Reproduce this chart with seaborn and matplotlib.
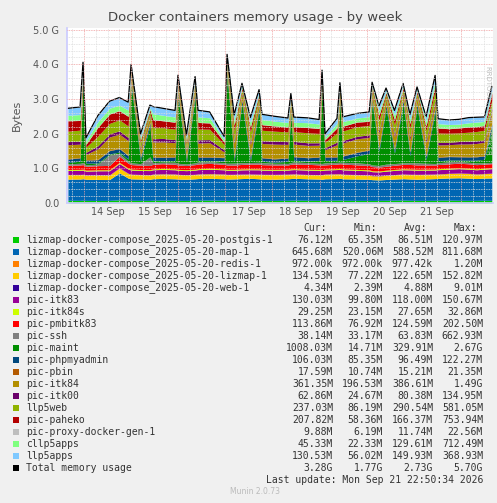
import numpy as np
import pandas as pd
import matplotlib
matplotlib.use("Agg")
import matplotlib.pyplot as plt
import seaborn as sns

sns.set_theme(style="white")
plt.rcParams['font.family'] = ['DejaVu Sans']

names = ["lizmap-docker-compose_2025-05-20-postgis-1", "lizmap-docker-compose_2025-05-20-map-1",
         "lizmap-docker-compose_2025-05-20-redis-1", "lizmap-docker-compose_2025-05-20-lizmap-1",
         "lizmap-docker-compose_2025-05-20-web-1", "pic-itk83", "pic-itk84s", "pic-pmbitk83", "pic-ssh",
         "pic-maint", "pic-phpmyadmin", "pic-pbin", "pic-itk84", "pic-itk00", "llp5web", "pic-paheko",
         "pic-proxy-docker-gen-1", "cllp5apps", "llp5apps"]
colors = ["#00CC00", "#0066B3", "#FF8000", "#FFCC00", "#330099", "#990099", "#CCFF00", "#FF0000", "#808080",
          "#008F00", "#00487D", "#B35A00", "#B38F00", "#6B006B", "#8FB300", "#B30000", "#BEBEBE", "#80FF80",
          "#80C9FF"]
cur = ["76.12M", "645.68M", "972.00k", "134.53M", "4.34M", "130.03M", "29.25M", "113.86M", "38.14M", "1008.03M",
       "106.03M", "17.59M", "361.35M", "62.86M", "237.03M", "207.82M", "9.88M", "45.33M", "130.53M", "3.28G"]
mins = ["65.35M", "520.06M", "972.00k", "77.22M", "2.39M", "99.80M", "23.15M", "76.92M", "33.17M", "14.71M",
        "85.35M", "10.74M", "196.53M", "24.67M", "86.19M", "58.36M", "6.19M", "22.33M", "56.02M", "1.77G"]
avgs = ["86.51M", "588.52M", "977.42k", "122.65M", "4.88M", "118.00M", "27.65M", "124.59M", "63.83M", "329.91M",
        "96.49M", "15.21M", "386.61M", "80.38M", "290.54M", "166.37M", "11.74M", "129.61M", "149.93M", "2.73G"]
maxs = ["120.97M", "811.68M", "1.20M", "152.82M", "9.01M", "150.67M", "32.86M", "202.50M", "662.93M", "2.67G",
        "122.27M", "21.35M", "1.49G", "134.95M", "581.05M", "753.94M", "22.56M", "712.49M", "368.93M", "5.70G"]

# sample times, hours since 13 Sep 00:00
hours = [15.8, 22.0, 23.5, 25.0, 31.0, 37.0, 42.0, 46.5, 48.0, 52.8, 57.6, 59.1, 64.0, 70.4, 71.9, 76.2, 80.6,
         82.1, 88.0, 95.4, 96.9, 100.5, 104.5, 108.8, 113.2, 114.7, 121.0, 127.9, 129.4, 130.9, 138.0, 143.8,
         145.3, 146.8, 152.9, 154.4, 155.9, 163.0, 169.3, 170.8, 174.3, 177.9, 182.2, 186.6, 190.1, 193.7,
         198.3, 202.9, 204.4, 210.0, 215.0, 220.0, 224.0, 228.0, 231.8]

# values in MB
postgis = [78,76,80,75,74,76,90,78,77,76,75,80,82,78,76,75,78,80,82,78,76,75,80,82,78,76,75,78,80,82,78,76,75,78,80,82,78,76,75,74,76,78,80,82,78,76,75,78,80,82,78,76,75,78,76]
map1 = [610,615,620,610,605,600,780,640,620,615,610,620,625,620,615,610,620,625,630,620,615,620,625,630,620,615,610,620,625,630,620,615,610,620,625,630,620,615,610,600,590,600,610,620,615,610,620,625,630,640,650,640,630,640,646]
redis = [1]*55
lizmap = [130,128,125,120,130,132,140,135,130,128,125,130,132,135,130,128,125,130,132,135,130,128,125,120,130,132,135,130,128,125,120,125,130,132,135,130,128,125,120,110,115,120,125,130,132,135,130,128,125,130,132,135,130,128,135]
web = [5,5,4,5,5,5,6,5,5,4,5,5,5,5,4,5,5,5,5,4,5,5,5,5,4,5,5,5,5,4,5,5,5,5,4,5,5,5,5,4,5,5,5,5,4,5,5,5,5,4,5,5,5,5,4]
itk83 = [115,118,120,110,115,118,125,120,118,115,120,122,125,120,118,115,120,122,125,120,118,115,120,122,125,120,118,115,120,122,125,120,118,115,120,122,125,120,118,115,110,115,120,122,125,120,118,115,120,122,125,120,118,125,130]
itk84s = [28,28,27,27,28,28,29,28,28,27,27,28,28,28,27,27,28,28,28,27,27,28,28,28,27,27,28,28,28,27,27,28,28,28,27,27,28,28,28,27,27,28,28,28,27,27,28,28,28,27,27,28,28,28,29]
pmbitk83 = [120,125,130,110,120,125,180,140,130,125,120,130,135,130,125,120,130,135,140,130,125,120,130,135,140,130,125,120,130,135,140,130,125,120,130,135,140,130,125,120,110,115,120,125,130,125,120,115,120,125,130,125,120,115,114]
ssh = [45,50,60,40,45,300,80,60,50,45,250,50,45,60,50,45,50,60,50,45,50,60,50,45,50,60,50,45,50,60,50,45,50,60,50,45,50,60,50,45,50,60,50,45,50,60,50,45,50,60,50,45,50,40,38]
maint = [40,60,2300,50,30,30,40,60,2250,80,900,60,40,50,1950,60,1900,40,30,50,2550,60,1700,50,1500,40,30,60,1400,50,40,80,2100,70,60,1700,80,200,300,1800,400,1600,300,1700,200,1600,100,1500,60,50,40,60,80,100,1008]
phpmyadmin = [95,96,98,90,95,96,100,98,96,95,96,98,100,98,96,95,96,98,100,98,96,95,96,98,100,98,96,95,96,98,100,98,96,95,96,98,100,98,96,95,96,98,100,98,96,95,96,98,100,98,96,95,96,98,106]
pbin = [15,15,16,14,15,15,16,15,15,14,15,15,16,15,15,14,15,15,16,15,15,14,15,15,16,15,15,14,15,15,16,15,15,14,15,15,16,15,15,14,15,15,16,15,15,14,15,15,16,15,15,14,15,15,18]
itk84 = [400,380,150,150,300,380,400,420,150,200,150,420,430,400,150,200,150,390,400,150,150,400,150,350,150,400,410,380,150,350,340,330,150,200,340,150,360,380,350,150,420,150,360,150,350,150,380,150,340,330,350,360,370,380,361]
itk00 = [90,85,40,60,85,90,95,90,40,60,40,95,100,90,40,60,40,95,90,60,40,80,40,80,40,80,85,80,40,80,75,70,40,60,75,40,75,70,75,40,75,40,75,40,75,40,75,80,75,70,75,80,75,70,63]
llp5web = [300,320,100,150,280,300,320,330,100,150,100,320,310,300,100,150,100,310,300,150,100,280,100,290,100,300,290,280,100,280,290,270,100,150,270,100,270,280,270,100,300,100,270,100,270,100,270,260,270,260,250,260,270,280,237]
paheko = [300,280,60,80,250,270,260,280,60,80,60,230,200,200,60,80,60,190,180,70,60,160,60,140,60,160,150,140,60,140,150,140,60,80,140,60,140,130,120,60,140,60,140,60,120,60,140,150,140,130,140,150,140,130,208]
proxy = [10,10,11,10,10,10,12,11,10,10,11,10,10,12,11,10,10,11,10,10,12,11,10,10,11,10,10,12,11,10,10,11,10,10,12,11,10,10,11,10,10,12,11,10,10,11,10,10,12,11,10,10,11,10,10]
cllp5apps = [150,160,40,80,150,160,150,170,40,70,40,160,150,140,40,70,40,150,140,60,40,140,40,120,40,140,130,120,40,120,130,120,40,60,120,40,120,110,120,40,120,40,120,40,120,40,120,130,120,110,100,110,120,110,45]
llp5apps = [200,220,80,100,180,200,220,230,80,100,80,210,200,190,80,100,80,190,170,100,80,150,80,150,80,150,140,130,80,150,140,130,80,100,140,80,140,130,140,80,140,80,140,80,140,80,140,150,140,130,140,150,140,130,131]

series = [postgis, map1, redis, lizmap, web, itk83, itk84s, pmbitk83, ssh, maint, phpmyadmin, pbin, itk84,
          itk00, llp5web, paheko, proxy, cllp5apps, llp5apps]

df = pd.DataFrame({n: np.array(s, float) * 1e6 for n, s in zip(names, series)})
df["hours"] = hours
total = df[names].sum(axis=1)

fig = plt.figure(figsize=(4.97, 5.03), dpi=100, facecolor="#F0F0F0")
ax = fig.add_axes([67/497, 1-203/503, 426/497, 175/503])
ax.set_facecolor("white")
ax.stackplot(df["hours"], [df[n] for n in names], colors=colors, linewidth=0)
sns.lineplot(x=df["hours"], y=total, color="black", linewidth=0.9, ax=ax)
ax.set_xlim(15.34, 232.4)
ax.set_ylim(0, 5.05e9)

ax.set_yticks(np.arange(0, 5.01e9, 1e9))
ax.set_yticklabels(["0.0", "1.0 G", "2.0 G", "3.0 G", "4.0 G", "5.0 G"])
ax.set_yticks(np.arange(0, 5.01e9, 0.2e9), minor=True)
ax.set_xticks(np.arange(24, 232, 24), minor=False)
ax.set_xticks(np.arange(18, 232, 6), minor=True)
ax.set_xticklabels([])
for i, d in enumerate(range(14, 22)):
    ax.text(36 + 24*i, -0.12e9, f"{d} Sep", ha="center", va="top", fontsize=7, color="#555555")
ax.grid(which="minor", color="#DDDDDD", linestyle=(0, (1, 1)), linewidth=0.6)
ax.grid(which="major", color="#F0A0A0", linestyle=(0, (1, 1)), linewidth=0.6)
ax.set_axisbelow(False)
ax.tick_params(axis="y", labelsize=7, colors="#555555", length=2, which="major")
ax.tick_params(axis="x", length=2, colors="#999999", which="both")
ax.tick_params(axis="y", length=0, which="minor")
for s in ["top", "right"]:
    ax.spines[s].set_visible(False)
ax.spines["left"].set_color("#CCCCFF")
ax.spines["bottom"].set_color("#CCCCFF")
ax.set_xlabel("")
ax.set_ylabel("Bytes", fontsize=8, color="#555555", labelpad=8)

fig.text(255/497, 1-18/503, "Docker containers memory usage - by week", ha="center", va="center",
         fontsize=9.5, color="#444444")
fig.text(488/497, 1-110/503, "RRDTOOL / TOBI OETIKER", rotation=270, ha="center", va="center",
         fontsize=5, color="#BBBBBB")

mono = "DejaVu Sans Mono"
fs = 7.0
col_x = [333, 383, 433, 483]
hy = 228
for x, h in zip(col_x, ["Cur:", "Min:", "Avg:", "Max:"]):
    fig.text((x - 6)/497, 1-hy/503, h, ha="right", va="center", fontsize=fs, family=mono, color="#333333")
labels = names + ["Total memory usage"]
lcolors = colors + ["#000000"]
for i, (lab, c) in enumerate(zip(labels, lcolors)):
    y = 240 + i * 11.98
    fig.patches.append(plt.Rectangle((13/497, 1-(y+3)/503), 6/497, 6/503, transform=fig.transFigure,
                                     facecolor=c, edgecolor="none"))
    fig.text(26/497, 1-y/503, lab, ha="left", va="center", fontsize=fs, family=mono, color="#333333")
    for x, v in zip(col_x, [cur[i], mins[i], avgs[i], maxs[i]]):
        fig.text(x/497, 1-y/503, v, ha="right", va="center", fontsize=fs, family=mono, color="#333333")
fig.text(483/497, 1-480/503, "Last update: Mon Sep 21 22:50:34 2026", ha="right", va="center",
         fontsize=fs, family=mono, color="#333333")
fig.text(255/497, 1-492/503, "Munin 2.0.73", ha="center", va="center", fontsize=5.5, color="#BBBBBB")

fig.savefig("out.png", dpi=100, facecolor=fig.get_facecolor())
